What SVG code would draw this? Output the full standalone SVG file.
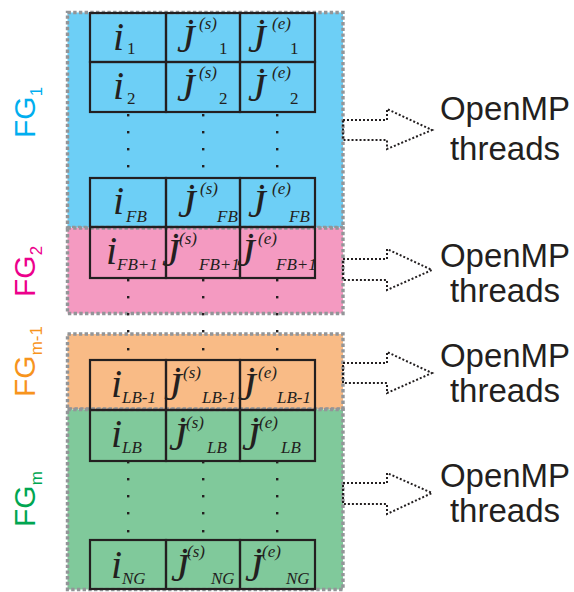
<svg xmlns="http://www.w3.org/2000/svg" width="574" height="592" viewBox="0 0 574 592">
<style>
.reg{stroke:#939598;stroke-width:3.4;stroke-dasharray:3.4 2.3}
.cell{fill:none;stroke:#231f20;stroke-width:2.2}
.m{font-family:"Liberation Serif","Times New Roman",serif;font-style:italic;fill:#231f20}
.big{font-size:40px}
.sm{font-size:17px}
.up{font-style:normal}
.dot{fill:#231f20}
.fg{font-family:"Liberation Sans",Arial,sans-serif;font-size:30px}
.fgs{font-size:17px}
.omp{font-family:"Liberation Sans",Arial,sans-serif;font-size:33px;fill:#231f20;text-anchor:middle}
.arr{fill:none;stroke:#231f20;stroke-width:2;stroke-dasharray:2 2}
</style>
<rect width="574" height="592" fill="#ffffff"/>
<g id="regions">
<g id="fg1-region"><rect class="reg" x="67.5" y="12.5" width="275.5" height="215" fill="#6dcff6"/></g>
<g id="fg2-region"><rect class="reg" x="67.5" y="228" width="275.5" height="85.5" fill="#f49ac1"/></g>
<g id="fgm1-region"><rect class="reg" x="67.5" y="334" width="275.5" height="75" fill="#f9bb86"/></g>
<g id="fgm-region"><rect class="reg" x="67.5" y="409.5" width="275.5" height="180" fill="#80c99b"/></g>
</g>
<g id="labels">
<g id="label-fg1"><text class="fg" fill="#00aeef" transform="translate(35,138) rotate(-90)">FG<tspan class="fgs" dy="7">1</tspan></text></g>
<g id="label-fg2"><text class="fg" fill="#ec008c" transform="translate(35,297) rotate(-90)">FG<tspan class="fgs" dy="7">2</tspan></text></g>
<g id="label-fgm1"><text class="fg" fill="#f7941d" transform="translate(35,397) rotate(-90)">FG<tspan class="fgs" dy="7">m-1</tspan></text></g>
<g id="label-fgm"><text class="fg" fill="#00a651" transform="translate(35,527) rotate(-90)">FG<tspan class="fgs" dy="7">m</tspan></text></g>
</g>
<g id="dots">
<rect class="dot" x="127" y="114" width="2.4" height="2.4"/><rect class="dot" x="202" y="114" width="2.4" height="2.4"/><rect class="dot" x="276" y="114" width="2.4" height="2.4"/>
<rect class="dot" x="127" y="131" width="2.4" height="2.4"/><rect class="dot" x="202" y="131" width="2.4" height="2.4"/><rect class="dot" x="276" y="131" width="2.4" height="2.4"/>
<rect class="dot" x="127" y="148" width="2.4" height="2.4"/><rect class="dot" x="202" y="148" width="2.4" height="2.4"/><rect class="dot" x="276" y="148" width="2.4" height="2.4"/>
<rect class="dot" x="127" y="165" width="2.4" height="2.4"/><rect class="dot" x="202" y="165" width="2.4" height="2.4"/><rect class="dot" x="276" y="165" width="2.4" height="2.4"/>
<rect class="dot" x="127" y="279" width="2.4" height="2.4"/><rect class="dot" x="202" y="279" width="2.4" height="2.4"/><rect class="dot" x="276" y="279" width="2.4" height="2.4"/>
<rect class="dot" x="127" y="296" width="2.4" height="2.4"/><rect class="dot" x="202" y="296" width="2.4" height="2.4"/><rect class="dot" x="276" y="296" width="2.4" height="2.4"/>
<rect class="dot" x="127" y="313" width="2.4" height="2.4"/><rect class="dot" x="202" y="313" width="2.4" height="2.4"/><rect class="dot" x="276" y="313" width="2.4" height="2.4"/>
<rect class="dot" x="127" y="330" width="2.4" height="2.4"/><rect class="dot" x="202" y="330" width="2.4" height="2.4"/><rect class="dot" x="276" y="330" width="2.4" height="2.4"/>
<rect class="dot" x="127" y="348" width="2.4" height="2.4"/><rect class="dot" x="202" y="348" width="2.4" height="2.4"/><rect class="dot" x="276" y="348" width="2.4" height="2.4"/>
<rect class="dot" x="127" y="461" width="2.4" height="2.4"/><rect class="dot" x="202" y="461" width="2.4" height="2.4"/><rect class="dot" x="276" y="461" width="2.4" height="2.4"/>
<rect class="dot" x="127" y="478" width="2.4" height="2.4"/><rect class="dot" x="202" y="478" width="2.4" height="2.4"/><rect class="dot" x="276" y="478" width="2.4" height="2.4"/>
<rect class="dot" x="127" y="495" width="2.4" height="2.4"/><rect class="dot" x="202" y="495" width="2.4" height="2.4"/><rect class="dot" x="276" y="495" width="2.4" height="2.4"/>
<rect class="dot" x="127" y="512" width="2.4" height="2.4"/><rect class="dot" x="202" y="512" width="2.4" height="2.4"/><rect class="dot" x="276" y="512" width="2.4" height="2.4"/>
<rect class="dot" x="127" y="530" width="2.4" height="2.4"/><rect class="dot" x="202" y="530" width="2.4" height="2.4"/><rect class="dot" x="276" y="530" width="2.4" height="2.4"/>
</g>
<g id="row-1">
<rect class="cell" x="90" y="13" width="76" height="49"/><rect class="cell" x="166" y="13" width="74" height="49"/><rect class="cell" x="240" y="13" width="75" height="49"/>
<text class="m"><tspan class="big" x="113" y="50">i</tspan><tspan class="sm up" x="127" y="54">1</tspan></text>
<text class="m"><tspan class="big" x="177" y="52">J̇</tspan><tspan class="sm" x="199" y="29">(s)</tspan><tspan class="sm up" x="219" y="54">1</tspan></text>
<text class="m"><tspan class="big" x="248" y="52">J̇</tspan><tspan class="sm" x="272" y="29">(e)</tspan><tspan class="sm up" x="290" y="54">1</tspan></text>
</g>
<g id="row-2">
<rect class="cell" x="90" y="62" width="76" height="50"/><rect class="cell" x="166" y="62" width="74" height="50"/><rect class="cell" x="240" y="62" width="75" height="50"/>
<text class="m"><tspan class="big" x="113" y="99">i</tspan><tspan class="sm up" x="127" y="104">2</tspan></text>
<text class="m"><tspan class="big" x="177" y="101">J̇</tspan><tspan class="sm" x="199" y="78">(s)</tspan><tspan class="sm up" x="219" y="104">2</tspan></text>
<text class="m"><tspan class="big" x="248" y="101">J̇</tspan><tspan class="sm" x="272" y="78">(e)</tspan><tspan class="sm up" x="290" y="104">2</tspan></text>
</g>
<g id="row-fb">
<rect class="cell" x="90" y="178" width="76" height="49"/><rect class="cell" x="166" y="178" width="74" height="49"/><rect class="cell" x="240" y="178" width="75" height="49"/>
<text class="m"><tspan class="big" x="113" y="214">i</tspan><tspan class="sm" x="126" y="222">FB</tspan></text>
<text class="m"><tspan class="big" x="178" y="217">J̇</tspan><tspan class="sm" x="200" y="194">(s)</tspan><tspan class="sm" x="217" y="222">FB</tspan></text>
<text class="m"><tspan class="big" x="248" y="217">J̇</tspan><tspan class="sm" x="272" y="194">(e)</tspan><tspan class="sm" x="289" y="222">FB</tspan></text>
</g>
<g id="row-fb1">
<rect class="cell" x="90" y="227" width="76" height="51"/><rect class="cell" x="166" y="227" width="74" height="51"/><rect class="cell" x="240" y="227" width="75" height="51"/>
<text class="m"><tspan class="big" x="106" y="264">i</tspan><tspan class="sm" x="117" y="270">FB+1</tspan></text>
<text class="m"><tspan class="big" x="162" y="266">J̇</tspan><tspan class="sm" x="179" y="244">(s)</tspan><tspan class="sm" x="199" y="270">FB+1</tspan></text>
<text class="m"><tspan class="big" x="237" y="266">J̇</tspan><tspan class="sm" x="258" y="244">(e)</tspan><tspan class="sm" x="276" y="270">FB+1</tspan></text>
</g>
<g id="row-lb1">
<rect class="cell" x="90" y="360" width="76" height="50"/><rect class="cell" x="166" y="360" width="74" height="50"/><rect class="cell" x="240" y="360" width="75" height="50"/>
<text class="m"><tspan class="big" x="111" y="397">i</tspan><tspan class="sm" x="122" y="403">LB-1</tspan></text>
<text class="m"><tspan class="big" x="164" y="400">J̇</tspan><tspan class="sm" x="183" y="378">(s)</tspan><tspan class="sm" x="202" y="403">LB-1</tspan></text>
<text class="m"><tspan class="big" x="238" y="400">J̇</tspan><tspan class="sm" x="258" y="378">(e)</tspan><tspan class="sm" x="277" y="403">LB-1</tspan></text>
</g>
<g id="row-lb">
<rect class="cell" x="90" y="410" width="76" height="51"/><rect class="cell" x="166" y="410" width="74" height="51"/><rect class="cell" x="240" y="410" width="75" height="51"/>
<text class="m"><tspan class="big" x="111" y="447">i</tspan><tspan class="sm" x="122" y="453">LB</tspan></text>
<text class="m"><tspan class="big" x="169" y="450">J̇</tspan><tspan class="sm" x="186" y="428">(s)</tspan><tspan class="sm" x="207" y="453">LB</tspan></text>
<text class="m"><tspan class="big" x="242" y="450">J̇</tspan><tspan class="sm" x="259" y="428">(e)</tspan><tspan class="sm" x="281" y="453">LB</tspan></text>
</g>
<g id="row-ng">
<rect class="cell" x="90" y="540" width="76" height="49"/><rect class="cell" x="166" y="540" width="74" height="49"/><rect class="cell" x="240" y="540" width="75" height="49"/>
<text class="m"><tspan class="big" x="111" y="578">i</tspan><tspan class="sm" x="122" y="584">NG</tspan></text>
<text class="m"><tspan class="big" x="171" y="581">J̇</tspan><tspan class="sm" x="187" y="557">(s)</tspan><tspan class="sm" x="211" y="584">NG</tspan></text>
<text class="m"><tspan class="big" x="245" y="581">J̇</tspan><tspan class="sm" x="262" y="557">(e)</tspan><tspan class="sm" x="286" y="584">NG</tspan></text>
</g>
<g id="connectors">
<polygon class="arr" points="343,120 387,120 387,109 432,130 387,149 387,140 343,140"/>
<polygon class="arr" points="343,259 387,259 387,249 432,270 387,290 387,280 343,280"/>
<polygon class="arr" points="343,363 387,363 387,352 432,373 387,393 387,383 343,383"/>
<polygon class="arr" points="343,483 387,483 387,473 432,493 387,514 387,504 343,504"/>
</g>
<g id="threads-1"><text class="omp" x="505" y="120">OpenMP</text><text class="omp" x="505" y="160">threads</text></g>
<g id="threads-2"><text class="omp" x="505" y="267">OpenMP</text><text class="omp" x="505" y="302">threads</text></g>
<g id="threads-3"><text class="omp" x="505" y="367">OpenMP</text><text class="omp" x="505" y="402">threads</text></g>
<g id="threads-4"><text class="omp" x="505" y="487">OpenMP</text><text class="omp" x="505" y="522">threads</text></g>
</svg>
